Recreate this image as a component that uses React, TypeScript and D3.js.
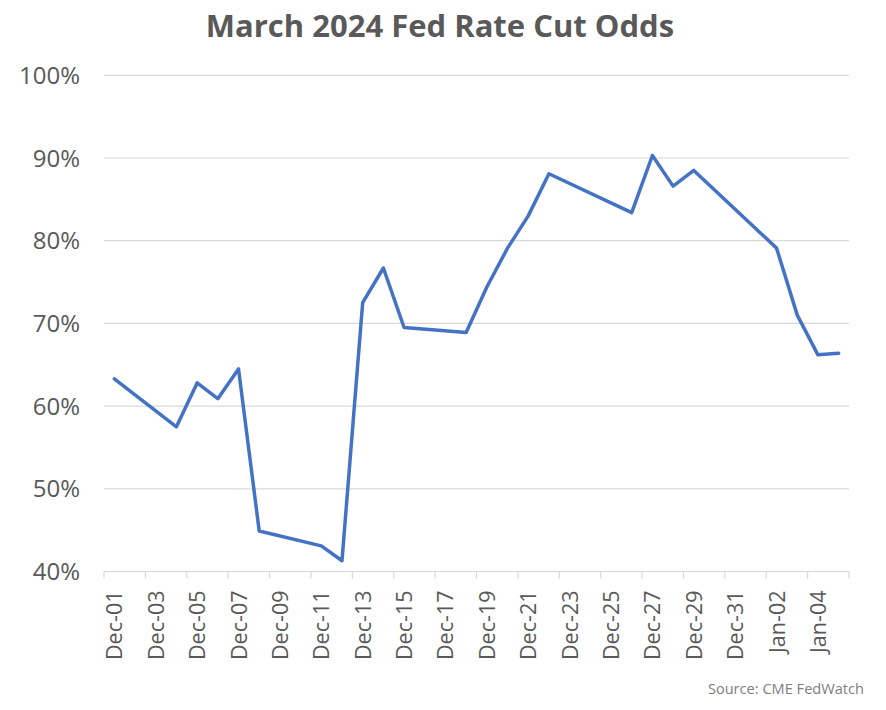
import React, { useEffect, useRef } from "react";
import * as d3 from "d3";

const dates = [
  "2023-12-01", "2023-12-04", "2023-12-05", "2023-12-06", "2023-12-07", "2023-12-08",
  "2023-12-11", "2023-12-12", "2023-12-13", "2023-12-14", "2023-12-15",
  "2023-12-18", "2023-12-19", "2023-12-20", "2023-12-21", "2023-12-22",
  "2023-12-26", "2023-12-27", "2023-12-28", "2023-12-29",
  "2024-01-02", "2024-01-03", "2024-01-04", "2024-01-05",
];
const odds = [
  63.3, 57.5, 62.8, 60.9, 64.5, 44.9,
  43.1, 41.3, 72.5, 76.7, 69.5,
  68.9, 74.4, 79.1, 83.0, 88.1,
  83.4, 90.3, 86.6, 88.5,
  79.1, 71.0, 66.2, 66.4,
];
const yTicks = [40, 50, 60, 70, 80, 90, 100];
const firstDay = "2023-12-01";
const lastDay = "2024-01-06";

const App = () => {
  const ref = useRef(null);

  useEffect(() => {
    const width = 886;
    const height = 710;
    const left = 104, right = 849, top = 75.3, bottom = 571.5;
    const font = "'Open Sans', sans-serif";
    const parse = d3.utcParse("%Y-%m-%d");
    const fmt = d3.utcFormat("%b-%d");

    const svg = d3.select(ref.current)
      .attr("width", width)
      .attr("height", height);
    svg.selectAll("*").remove();

    const x = d3.scaleUtc()
      .domain([parse(firstDay), parse(lastDay)])
      .range([left, right]);
    const y = d3.scaleLinear().domain([40, 100]).range([bottom, top]);

    // Excel date axis: each day is a band, point sits in the middle
    const mid = (d) => x(d3.utcHour.offset(d, 12));

    svg.append("text")
      .attr("x", 440)
      .attr("y", 37)
      .attr("text-anchor", "middle")
      .attr("font-family", font)
      .attr("font-size", "31px")
      .attr("font-weight", "bold")
      .attr("fill", "#595959")
      .text("March 2024 Fed Rate Cut Odds");

    const grid = svg.append("g");
    grid.selectAll("line")
      .data(yTicks.slice(1))
      .enter()
      .append("line")
      .attr("x1", left)
      .attr("x2", right)
      .attr("y1", d => y(d))
      .attr("y2", d => y(d))
      .attr("stroke", "#d9d9d9")
      .attr("stroke-width", 1.2);

    svg.append("g")
      .selectAll("text")
      .data(yTicks)
      .enter()
      .append("text")
      .attr("x", 80)
      .attr("y", d => y(d))
      .attr("dy", "0.36em")
      .attr("text-anchor", "end")
      .attr("font-family", font)
      .attr("font-size", "24px")
      .attr("fill", "#595959")
      .text(d => d + "%");

    // x axis
    const tickDays = d3.utcDay.range(parse(firstDay), d3.utcDay.offset(parse(lastDay), 1), 2);
    const xAxis = svg.append("g");
    xAxis.append("line")
      .attr("x1", left)
      .attr("x2", right)
      .attr("y1", bottom)
      .attr("y2", bottom)
      .attr("stroke", "#d9d9d9")
      .attr("stroke-width", 1.2);
    xAxis.selectAll(".tick")
      .data(tickDays)
      .enter()
      .append("line")
      .attr("x1", d => x(d))
      .attr("x2", d => x(d))
      .attr("y1", bottom)
      .attr("y2", bottom + 7)
      .attr("stroke", "#d9d9d9")
      .attr("stroke-width", 1.2);
    xAxis.selectAll("text")
      .data(tickDays.slice(0, -1))
      .enter()
      .append("text")
      .attr("transform", d => `translate(${mid(d) + 8}, ${bottom + 19}) rotate(-90)`)
      .attr("text-anchor", "end")
      .attr("font-family", font)
      .attr("font-size", "21.5px")
      .attr("fill", "#595959")
      .text(d => fmt(d));

    const line = d3.line()
      .x(d => mid(parse(d[0])))
      .y(d => y(d[1]));

    svg.append("path")
      .datum(dates.map((d, i) => [d, odds[i]]))
      .attr("d", line)
      .attr("fill", "none")
      .attr("stroke", "#4472c4")
      .attr("stroke-width", 3.5)
      .attr("stroke-linejoin", "round")
      .attr("stroke-linecap", "round");

    svg.append("text")
      .attr("x", 864)
      .attr("y", 694)
      .attr("text-anchor", "end")
      .attr("font-family", font)
      .attr("font-size", "14.6px")
      .attr("fill", "#808080")
      .text("Source: CME FedWatch");
  }, []);

  return <svg ref={ref} style={{ position: "absolute", left: 0, top: 0 }}></svg>;
};

export default App;
